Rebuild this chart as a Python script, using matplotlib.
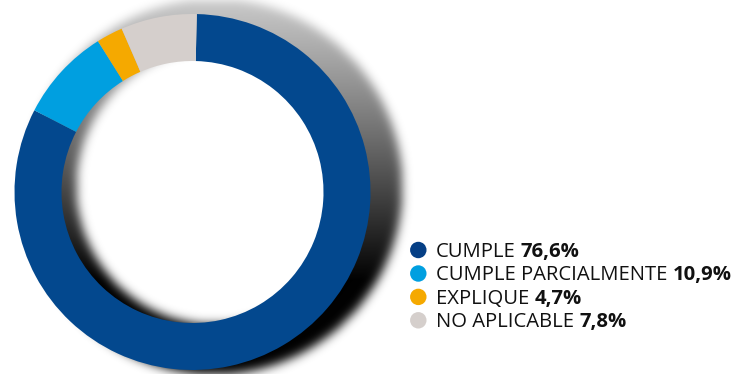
import numpy as np
import matplotlib
matplotlib.use("Agg")
import matplotlib.pyplot as plt

plt.rcParams['font.family'] = ['Open Sans', 'DejaVu Sans']

# legend text, as printed
categories = ["CUMPLE", "CUMPLE PARCIALMENTE", "EXPLIQUE", "NO APLICABLE"]
pct_labels = ["76,6%", "10,9%", "4,7%", "7,8%"]
# share of the ring each arc takes in the source picture
arc_shares = [82.2, 8.5, 2.4, 6.9]
colors = ["#03488e", "#009fe0", "#f5a900", "#d5cfcc"]
legend_colors = ["#053f85", "#009fe0", "#f5a900", "#d5cfcc"]

W, H = 755, 374
fig = plt.figure(figsize=(W / 100, H / 100), dpi=100)
ax = fig.add_axes([0, 0, 1, 1])

# blurred drop shadow behind the ring, darker towards the bottom
yy, xx = np.mgrid[0:H, 0:W]
d = np.hypot(xx - 214, yy - 186)
mask = ((d <= 188) & (d >= 138)).astype(float)
k = np.exp(-0.5 * (np.arange(-15, 16) / 5.0) ** 2)
k /= k.sum()
mask = np.apply_along_axis(lambda m: np.convolve(m, k, mode='same'), 1, mask)
mask = np.apply_along_axis(lambda m: np.convolve(m, k, mode='same'), 0, mask)
grad = np.clip(0.22 + 0.78 * (yy / 280.0) ** 1.1, 0, 1)
rgba = np.zeros((H, W, 4))
rgba[..., 3] = mask * grad
ax.imshow(rgba, extent=(0, W, 0, H), origin='upper', zorder=1, interpolation='nearest')

cx, cy, R = 192.5, H - 192, 178
ax.pie(arc_shares, colors=colors, startangle=88.6, counterclock=False,
       radius=R, center=(cx, cy), frame=True,
       wedgeprops=dict(width=47, edgecolor='none', zorder=2))

ax.set_xlim(0, W)
ax.set_ylim(0, H)
ax.set_aspect('auto')
ax.axis('off')

# legend
renderer = fig.canvas.get_renderer()
inv = ax.transData.inverted()
base_y = [256.7, 280.2, 303.6, 327.0]
for cat, pct, col, by in zip(categories, pct_labels, legend_colors, base_y):
    ax.scatter([418.3], [H - by + 6.7], s=140, color=col, edgecolors='none', zorder=3)
    t = ax.text(436, H - by, cat, fontsize=14.6, color='#111111',
                ha='left', va='baseline', zorder=3)
    bb = t.get_window_extent(renderer=renderer)
    x1 = inv.transform((bb.x1, bb.y0))[0]
    ax.text(x1 + 5, H - by, pct, fontsize=14.6, fontweight='bold',
            color='#111111', ha='left', va='baseline', zorder=3)

fig.savefig("out.png", dpi=100)
